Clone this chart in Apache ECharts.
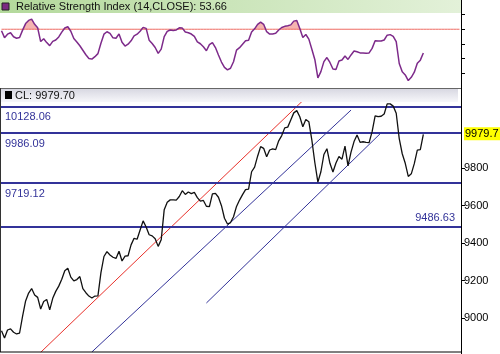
<!DOCTYPE html>
<html>
<head>
<meta charset="utf-8">
<script src="https://cdn.jsdelivr.net/npm/echarts@6/dist/echarts.min.js"></script>
<style>
html,body{margin:0;padding:0;background:#fff}
#main{width:500px;height:354px}
</style>
</head>
<body>
<div id="main"></div>
<script>
// daily closes
var closes = [
    8932, 8893, 8936, 8942, 8924, 8915, 8920, 9010, 9091, 9133,
    9157, 9123, 9110, 9048, 9088, 9099, 9043, 9105, 9142, 9170,
    9207, 9252, 9265, 9218, 9198, 9205, 9221, 9157, 9135, 9117,
    9107, 9117, 9118, 9242, 9328, 9354, 9336, 9324, 9318, 9356,
    9304, 9330, 9332, 9390, 9425, 9420, 9469, 9518, 9485, 9444,
    9438, 9423, 9382, 9417, 9578, 9617, 9630, 9630, 9629, 9648,
    9679, 9659, 9672, 9663, 9670, 9642, 9623, 9627, 9596, 9594,
    9662, 9665, 9644, 9599, 9532, 9501, 9509, 9540, 9595, 9629,
    9658, 9685, 9687, 9780, 9805, 9863, 9914, 9905, 9860, 9896,
    9902, 9898, 9945, 9973, 10014, 10018, 10056, 10094, 10106, 10073,
    10020, 10059, 10047, 9949, 9828, 9725, 9780, 9872, 9903, 9825,
    9779, 9827, 9861, 9847, 9917, 9811, 9885, 9941, 9976, 9937,
    9940, 9937, 9935, 9994, 10078, 10074, 10076, 10088, 10142, 10142,
    10130, 10092, 9957, 9876, 9825, 9755, 9769, 9823, 9895, 9898,
    9979.70
];
// RSI(14)
var rsiValues = [
    69.0, 64.2, 66.6, 67.6, 64.8, 63.8, 64.3, 69.4, 73.9, 76.1,
    77.0, 73.4, 71.0, 61.5, 63.5, 60.8, 58.7, 61.6, 62.6, 64.7,
    68.0, 70.9, 71.7, 68.6, 63.6, 61.2, 58.6, 55.5, 52.4, 49.9,
    49.4, 51.1, 53.2, 60.4, 66.6, 68.3, 67.2, 64.1, 63.8, 66.8,
    61.0, 58.4, 59.7, 62.0, 65.4, 66.6, 68.6, 71.3, 70.6, 62.5,
    60.2, 57.4, 53.4, 56.3, 64.9, 68.5, 69.5, 69.1, 69.5, 71.0,
    70.8, 68.1, 67.6, 66.7, 65.1, 61.3, 60.0, 57.9, 55.2, 59.4,
    60.8, 57.4, 52.3, 47.4, 43.7, 42.0, 43.1, 47.6, 55.6, 57.3,
    59.7, 62.1, 62.4, 68.1, 70.3, 73.4, 74.9, 73.4, 68.3, 66.7,
    66.7, 67.2, 69.5, 71.2, 72.0, 72.4, 73.0, 75.6, 76.1, 70.5,
    64.3, 66.4, 63.2, 56.2, 49.0, 36.4, 40.8, 47.7, 50.5, 47.1,
    42.6, 42.2, 48.1, 48.8, 51.6, 49.2, 52.3, 55.0, 54.5, 53.7,
    53.7, 53.4, 53.7, 56.8, 62.1, 61.9, 61.9, 62.6, 65.9, 66.3,
    65.1, 61.4, 46.4, 40.7, 38.5, 34.6, 36.9, 40.4, 46.5, 48.7,
    53.66
];
var rsiOverbought = 70;
var rsiTicks = [40, 50, 60, 70, 80];
var priceTicks = [9000, 9200, 9400, 9600, 9800];
var levels = [10128.06, 9986.09, 9719.12, 9486.63];
// trend lines: [day, price] end points
var redTrend = [[13, 8817], [100, 10159]];
var blueTrend1 = [[30, 8819], [116, 10109]];
var blueTrend2 = [[68, 9080], [126, 9988]];

var lastClose = closes[closes.length - 1];
var lastRsi = rsiValues[rsiValues.length - 1];

var days = [];
for (var i = 0; i < 153; i++) days.push(i);

var FONT = 'Liberation Sans, Arial, sans-serif';
var BLUE = '#333399';

var levelLines = levels.map(function (v, idx) {
    var last = idx == levels.length - 1;
    return {
        yAxis: v,
        label: {
            position: last ? 'insideEndTop' : 'insideStartBottom',
            distance: last ? [6, 3] : [5, 5]
        }
    };
});

var chart = echarts.init(document.getElementById('main'));

var option = {
    animation: false,
    backgroundColor: '#fff',
    grid: [
        {left: 0, top: 13, width: 461, height: 75},
        {left: 0, top: 102, width: 461, height: 250}
    ],
    xAxis: [
        {type: 'category', gridIndex: 0, data: days, boundaryGap: true, show: false},
        {type: 'category', gridIndex: 1, data: days, boundaryGap: true, show: false}
    ],
    yAxis: [
        {
            type: 'value', gridIndex: 0, position: 'right', min: 29.5, max: 81.2,
            axisLine: {show: true, lineStyle: {color: '#000', width: 1}},
            axisTick: {show: true, customValues: rsiTicks, length: 4, lineStyle: {color: '#000'}},
            axisLabel: {show: false},
            splitLine: {show: false}
        },
        {
            type: 'value', gridIndex: 1, position: 'right', min: 8818.7, max: 10152,
            axisLine: {show: true, lineStyle: {color: '#000', width: 1}},
            axisTick: {show: true, customValues: priceTicks, length: 4, lineStyle: {color: '#000'}},
            axisLabel: {
                show: true, customValues: priceTicks, color: '#000', fontSize: 11, fontFamily: FONT, margin: 3,
                formatter: function (v) { return String(v); }
            },
            splitLine: {show: false}
        }
    ],
    series: [
        {
            // overbought level across the whole panel, also the base of the fill
            type: 'line', xAxisIndex: 0, yAxisIndex: 0, stack: 'ob', silent: true, z: 3,
            data: days.map(function () { return rsiOverbought; }),
            showSymbol: false, lineStyle: {color: '#ee6a62', width: 1}
        },
        {
            type: 'line', xAxisIndex: 0, yAxisIndex: 0, stack: 'ob', silent: true, z: 2,
            data: rsiValues.map(function (v) { return Math.max(v - rsiOverbought, 0); }),
            showSymbol: false, lineStyle: {width: 0, opacity: 0},
            areaStyle: {color: '#f5b4b0', opacity: 1}
        },
        {
            type: 'line', xAxisIndex: 0, yAxisIndex: 0, data: rsiValues, z: 4,
            showSymbol: false, lineStyle: {color: '#7d2a8a', width: 1.5}
        },
        {
            type: 'line', xAxisIndex: 1, yAxisIndex: 1, data: redTrend,
            showSymbol: false, lineStyle: {color: '#e8302a', width: 1}
        },
        {
            type: 'line', xAxisIndex: 1, yAxisIndex: 1, data: blueTrend1,
            showSymbol: false, lineStyle: {color: BLUE, width: 1}
        },
        {
            type: 'line', xAxisIndex: 1, yAxisIndex: 1, data: blueTrend2,
            showSymbol: false, lineStyle: {color: BLUE, width: 1}
        },
        {
            type: 'line', xAxisIndex: 1, yAxisIndex: 1, data: closes, z: 5,
            showSymbol: false, lineStyle: {color: '#111', width: 1.3},
            markLine: {
                silent: true, symbol: ['none', 'none'],
                lineStyle: {color: BLUE, width: 2, type: 'solid'},
                label: {
                    color: BLUE, fontSize: 11, fontFamily: FONT,
                    formatter: function (p) { return p.value.toFixed(2); }
                },
                data: levelLines
            }
        }
    ]
};
chart.setOption(option);

// last-price tag on the right axis
var tagY = chart.convertToPixel({yAxisIndex: 1}, lastClose);

chart.setOption({
    graphic: [
        // rsi header
        {
            type: 'rect', shape: {x: 0, y: 0, width: 461, height: 13}, z: 10,
            style: {fill: new echarts.graphic.LinearGradient(0, 0, 1, 0, [
                {offset: 0, color: '#b3d99b'}, {offset: 1, color: '#e3f1d9'}
            ])}
        },
        {type: 'rect', shape: {x: 2, y: 3, width: 7, height: 7}, z: 11, style: {fill: '#7a2a82', stroke: '#222', lineWidth: 1}},
        {
            type: 'text', x: 16, y: 7, z: 11,
            style: {text: 'Relative Strength Index (14,CLOSE): ' + lastRsi.toFixed(2), fill: '#111',
                font: '11px ' + FONT, verticalAlign: 'middle'}
        },
        // price header
        {type: 'line', shape: {x1: 0, y1: 88.5, x2: 461, y2: 88.5}, z: 10, style: {stroke: '#666', lineWidth: 1}},
        {
            type: 'rect', shape: {x: 1, y: 89, width: 457, height: 13}, z: 10,
            style: {fill: new echarts.graphic.LinearGradient(0, 0, 0, 1, [
                {offset: 0, color: '#d8d8e2'}, {offset: 1, color: '#f7f7fa'}
            ])}
        },
        {type: 'rect', shape: {x: 5, y: 91, width: 7, height: 8}, z: 11, style: {fill: '#000'}},
        {
            type: 'text', x: 15, y: 95.5, z: 11,
            style: {text: 'CL: ' + lastClose.toFixed(2), fill: '#111', font: '11px ' + FONT, verticalAlign: 'middle'}
        },
        // frame
        {type: 'line', shape: {x1: 0.5, y1: 88, x2: 0.5, y2: 352}, z: 10, style: {stroke: '#333', lineWidth: 1}},
        {type: 'line', shape: {x1: 0, y1: 352, x2: 461, y2: 352}, z: 10, style: {stroke: '#000', lineWidth: 1}},
        {type: 'line', shape: {x1: 461.5, y1: 0, x2: 461.5, y2: 354}, z: 10, style: {stroke: '#000', lineWidth: 1}},
        // tag
        {type: 'rect', shape: {x: 464, y: tagY - 7, width: 36, height: 13}, z: 12, style: {fill: '#ffff00'}},
        {
            type: 'text', x: 465, y: tagY, z: 13,
            style: {text: lastClose.toFixed(1), fill: '#000', font: '11px ' + FONT, verticalAlign: 'middle'}
        }
    ]
});

window.addEventListener('resize', function () { chart.resize(); });
</script>
</body>
</html>
